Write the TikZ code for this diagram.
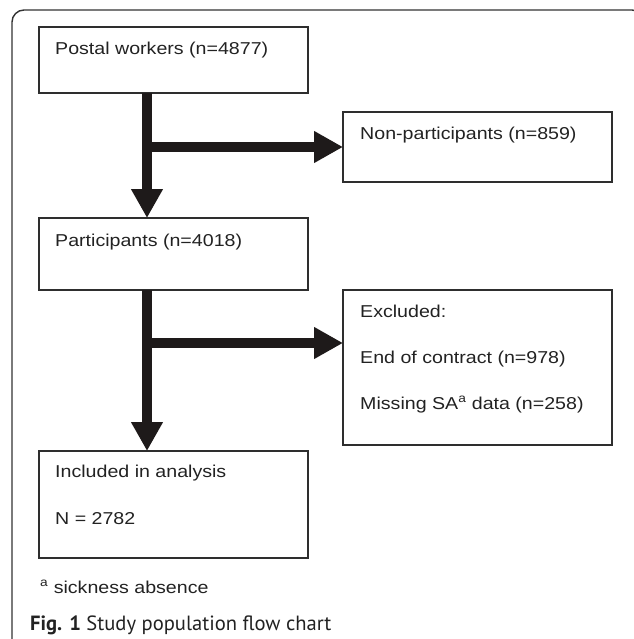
\documentclass[tikz,border=0pt]{standalone}
\usepackage{fontspec}
\setmainfont[FakeStretch=1.14]{Liberation Sans}
\newfontfamily\capfont{PT Sans}
\usetikzlibrary{arrows.meta}
\definecolor{boxgray}{HTML}{2E2E2E}
\definecolor{framegray}{HTML}{333333}
\definecolor{arrowblack}{HTML}{1E1A1A}
\definecolor{textgray}{HTML}{222222}
\begin{document}
\begin{tikzpicture}[x=1pt,y=-1pt,
  box/.style={draw=boxgray, line width=1.4pt, inner sep=0pt, outer sep=0pt, anchor=north west, minimum width=269pt},
  txt/.style={anchor=base west, inner sep=0pt, font=\fontsize{17.2}{20}\selectfont, text=textgray},
  flow/.style={line width=10pt, draw=arrowblack, -{Triangle[length=29pt,width=30pt]}}]
\useasboundingbox (0,0) rectangle (633,639);
\draw[rounded corners=12pt, line width=1.4pt, draw=framegray] (12,10) rectangle (644,651);
% boxes
\node[box, minimum height=66pt] (postal) at (39,27) {};
\node[box, minimum height=70pt] (nonpart) at (343,112) {};
\node[box, minimum height=72pt] (part) at (39,218) {};
\node[box, minimum height=155pt] (excl) at (343,290) {};
\node[box, minimum height=107pt] (incl) at (39,451) {};
% texts
\node[txt] (tpostal) at (55,55) {Postal workers (n=4877)};
\node[txt] (tnonpart) at (360,140) {Non-participants (n=859)};
\node[txt] (tpart) at (55,246) {Participants (n=4018)};
\node[txt] (texcl1) at (360,317) {Excluded:};
\node[txt] (texcl2) at (360,363) {End of contract (n=978)};
\node[txt] (texcl3) at (360,409) {Missing SA\textsuperscript{a} data (n=258)};
\node[txt] (tincl1) at (55,477) {Included in analysis};
\node[txt] (tincl2) at (55,524) {N = 2782};
\node[txt] (fn) at (40,593) {\textsuperscript{a} sickness absence};
\node[anchor=base west, inner sep=0pt, font=\capfont\fontsize{20.6}{24}\selectfont, text=textgray] (cap) at (30,630) {\textbf{Fig. 1} Study population flow chart};
% connectors
\coordinate (sx) at (147,0);
\coordinate (b1) at (147,147);
\coordinate (b2) at (147,343);
\draw[flow] (postal.south -| sx) -- (part.north -| sx);
\draw[flow] (b1) -- (b1 -| nonpart.west);
\draw[flow] (part.south -| sx) -- (incl.north -| sx);
\draw[flow] (b2) -- (b2 -| excl.west);
\end{tikzpicture}
\end{document}
